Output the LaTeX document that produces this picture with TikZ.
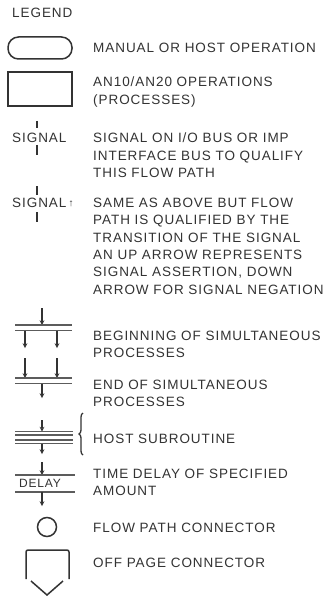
\documentclass[tikz,border=0pt]{standalone}
\usepackage{fontspec}
\setmainfont[LetterSpace=7]{Liberation Sans}
\usepackage{tikz}
\usetikzlibrary{arrows, arrows.meta, decorations.pathreplacing}
\definecolor{ink}{HTML}{333333}

\begin{document}
\begin{tikzpicture}[
    x=1pt, y=-1pt,
    every node/.style={font=\fontsize{13.5}{17.3}\selectfont, text=ink, inner sep=0pt},
    legtext/.style={anchor=north west, align=left},
    symline/.style={draw=ink, line width=1.5pt},
    barline/.style={draw=ink!80, line width=1.1pt},
    flow/.style={draw=ink, line width=1.1pt, ->, >=stealth},
    sigline/.style={draw=ink, line width=1.3pt}
]
\useasboundingbox[fill=white] (0,0) rectangle (336,596);

% heading
\node[legtext] (legend) at (12,8) {LEGEND};

% manual or host operation
\draw[symline, rounded corners=10.5pt] (8,37) rectangle (72,59);
\node[legtext] (manual) at (93,43) {MANUAL OR HOST OPERATION};

% processes
\draw[symline] (8,72) rectangle (72,106);
\node[legtext] (process) at (93,77) {AN10/AN20 OPERATIONS\\(PROCESSES)};

% signal
\node[anchor=north west] (sig) at (12,133) {SIGNAL};
\draw[sigline] (37,121) -- (37,128);
\draw[sigline] (37,145) -- (37,155);
\node[legtext] (sigtext) at (93,133) {SIGNAL ON I/O BUS OR IMP\\INTERFACE BUS TO QUALIFY\\THIS FLOW PATH};

% signal with transition
\node[anchor=north west] (sigup) at (12,198) {SIGNAL\,\raisebox{1.5pt}{\fontsize{10}{10}\selectfont ↑}};
\draw[sigline] (37,186) -- (37,195);
\draw[sigline] (37,212) -- (37,222);
\node[legtext] (sameas) at (93,198) {SAME AS ABOVE BUT FLOW\\PATH IS QUALIFIED BY THE\\TRANSITION OF THE SIGNAL\\AN UP ARROW REPRESENTS\\SIGNAL ASSERTION, DOWN\\ARROW FOR SIGNAL NEGATION};

% beginning of simultaneous processes
\draw[flow] (42,308) -- (42,325);
\draw[barline] (15,325) -- (72,325);
\draw[barline] (15,330.5) -- (72,330.5);
\draw[flow] (25,330.5) -- (25,348);
\draw[flow] (57,330.5) -- (57,348);
\node[legtext] (begin) at (93,331) {BEGINNING OF SIMULTANEOUS\\PROCESSES};

% end of simultaneous processes
\draw[flow] (25,358) -- (25,378);
\draw[flow] (57,358) -- (57,378);
\draw[barline] (15,378) -- (72,378);
\draw[barline] (15,383.5) -- (72,383.5);
\draw[flow] (42,383.5) -- (42,398);
\node[legtext] (endsim) at (93,380) {END OF SIMULTANEOUS\\PROCESSES};

% host subroutine
\draw[flow] (42,420) -- (42,431.5);
\foreach \yy in {431.5,435,440,443.5}
    \draw[barline] (15,\yy) -- (73,\yy);
\draw[flow] (42,443.5) -- (42,454);
\draw[sigline, decorate, decoration={brace, amplitude=4pt}] (83,455) -- (83,413);
\node[legtext] (host) at (93,434) {HOST SUBROUTINE};

% time delay
\draw[flow] (42,462) -- (42,475);
\draw[barline] (15,475) -- (75,475);
\node[font=\fontsize{12}{12}\selectfont] (delay) at (40,483.5) {DELAY};
\draw[barline] (15,492) -- (75,492);
\draw[flow] (42,492) -- (42,506);
\node[legtext] (timedelay) at (93,469) {TIME DELAY OF SPECIFIED\\AMOUNT};

% flow path connector
\draw[symline] (47,527) circle (9.5);
\node[legtext] (conn) at (93,523) {FLOW PATH CONNECTOR};

% off page connector
\draw[symline, rounded corners=2pt] (26,579) -- (26,550) -- (69,550) -- (69,579);
\draw[symline] (31,581) -- (47,595) -- (63,581);
\node[legtext] (offpage) at (93,558) {OFF PAGE CONNECTOR};

\end{tikzpicture}
\end{document}
